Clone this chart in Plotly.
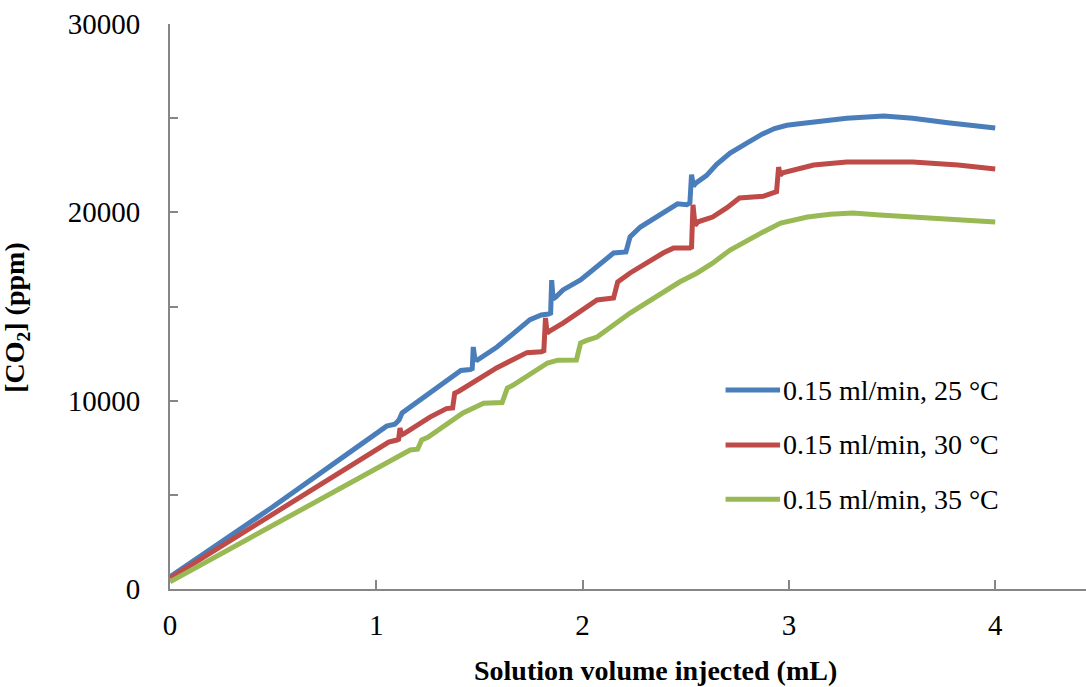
import plotly.graph_objects as go

# Solution volume injected (mL) and CO2 concentration (ppm) for each temperature
x_25 = [0, 0.49, 0.78, 0.98, 1.05, 1.09, 1.11, 1.125, 1.26, 1.41, 1.455, 1.465, 1.47, 1.478, 1.49,
        1.585, 1.745, 1.80, 1.835, 1.845, 1.85, 1.857, 1.87, 1.905, 1.99, 2.07, 2.15, 2.21, 2.23,
        2.28, 2.39, 2.46, 2.505, 2.52, 2.528, 2.537, 2.55, 2.60, 2.65, 2.715, 2.80, 2.87, 2.93,
        2.99, 3.05, 3.12, 3.28, 3.46, 3.6, 3.77, 3.93, 4.0]
co2_25 = [650, 4300, 6550, 8070, 8650, 8750, 8970, 9350, 10400, 11600, 11650, 11700, 12850, 12200, 12160,
          12850, 14300, 14550, 14600, 14650, 16400, 15400, 15500, 15880, 16410, 17100, 17840, 17900, 18700,
          19220, 19960, 20450, 20400, 20500, 22000, 21400, 21560, 21950, 22550, 23150, 23700, 24150, 24450,
          24620, 24700, 24810, 25000, 25120, 25000, 24760, 24590, 24480]

x_30 = [0, 0.49, 0.776, 1.06, 1.10, 1.108, 1.115, 1.122, 1.135, 1.26, 1.34, 1.37, 1.38, 1.40,
        1.585, 1.73, 1.80, 1.812, 1.82, 1.828, 1.84, 1.905, 2.07, 2.15, 2.17, 2.23, 2.39, 2.44, 2.52,
        2.528, 2.535, 2.545, 2.56, 2.63, 2.70, 2.76, 2.875, 2.93, 2.94, 2.95, 2.958, 2.97, 3.05,
        3.12, 3.28, 3.6, 3.82, 4.0]
co2_30 = [580, 3900, 5870, 7800, 7910, 7950, 8550, 8180, 8250, 9130, 9580, 9610, 10400, 10500,
          11750, 12550, 12600, 12650, 14390, 13590, 13700, 14120, 15350, 15450, 16300, 16780, 17840, 18100, 18100,
          18150, 20400, 19300, 19500, 19750, 20250, 20760, 20850, 21080, 21100, 22400, 21980, 22100, 22350,
          22510, 22670, 22670, 22510, 22300]

x_35 = [0, 0.5, 0.89, 1.164, 1.20, 1.22, 1.25, 1.42, 1.52, 1.61, 1.635, 1.66, 1.83, 1.88, 1.97,
        1.99, 2.02, 2.07, 2.23, 2.47, 2.555, 2.63, 2.715, 2.8, 2.875, 2.96, 3.09, 3.2, 3.31,
        3.44, 3.68, 4.0]
co2_35 = [380, 3400, 5790, 7380, 7420, 7910, 8050, 9350, 9860, 9900, 10670, 10800, 12000, 12150, 12160,
          13060, 13200, 13380, 14650, 16300, 16780, 17300, 18000, 18530, 18960, 19430, 19750, 19900, 19970,
          19860, 19700, 19490]

series_names = ["0.15 ml/min, 25 °C", "0.15 ml/min, 30 °C", "0.15 ml/min, 35 °C"]
series_colors = ["#4A7EBB", "#BE4B48", "#98B954"]

x_ticks = [0, 1, 2, 3, 4]
y_ticks = [0, 10000, 20000, 30000]
y_tick_labels = ["0", "10000", "20000", "30000"]

SERIF = "Liberation Serif"
AXIS_GREY = "#868686"

fig = go.Figure()
for xs, ys, name, color in zip([x_25, x_30, x_35], [co2_25, co2_30, co2_35],
                               series_names, series_colors):
    fig.add_trace(go.Scatter(x=xs, y=ys, mode="lines", name=name,
                             line=dict(color=color, width=5), showlegend=False))

# Legend drawn as line samples with text to their right
legend_y = [0.352, 0.255, 0.159]
for name, color, ly in zip(series_names, series_colors, legend_y):
    fig.add_shape(type="line", xref="paper", yref="paper",
                  x0=0.6065, x1=0.666, y0=ly, y1=ly,
                  line=dict(color=color, width=5))
    fig.add_annotation(xref="paper", yref="paper", x=0.667, y=ly,
                       xanchor="left", yanchor="middle", showarrow=False,
                       text=name, font=dict(family=SERIF, size=28, color="black"))

fig.add_annotation(xref="paper", yref="paper", x=0.5295, y=-0.145,
                   xanchor="center", yanchor="middle", showarrow=False,
                   text="<b>Solution volume injected (mL)</b>",
                   font=dict(family=SERIF, size=28, color="black"))
fig.add_annotation(xref="paper", yref="paper", x=-0.167, y=0.48,
                   xanchor="center", yanchor="middle", showarrow=False, textangle=-90,
                   text="<b>[CO<sub>2</sub>] (ppm)</b>",
                   font=dict(family=SERIF, size=28, color="black"))

fig.update_layout(
    width=1086, height=687,
    margin=dict(l=170, r=0, t=24, b=98),
    paper_bgcolor="white", plot_bgcolor="white",
    xaxis=dict(range=[0, 4.44], tickvals=x_ticks, ticks="inside", ticklen=9,
               tickwidth=2, tickcolor=AXIS_GREY, showline=True, linecolor=AXIS_GREY,
               linewidth=2, showgrid=False, zeroline=False, ticklabelstandoff=9,
               tickfont=dict(family=SERIF, size=29, color="black")),
    yaxis=dict(range=[0, 30000], tickvals=y_ticks, ticktext=y_tick_labels,
               ticks="inside", ticklen=8, tickwidth=2, tickcolor=AXIS_GREY,
               minor=dict(dtick=5000, ticks="inside", ticklen=8, tickwidth=2,
                          tickcolor=AXIS_GREY, showgrid=False),
               showline=True, linecolor=AXIS_GREY, linewidth=2, showgrid=False,
               zeroline=False, ticklabelstandoff=22,
               tickfont=dict(family=SERIF, size=29, color="black")),
)

fig.write_html("out.html")
